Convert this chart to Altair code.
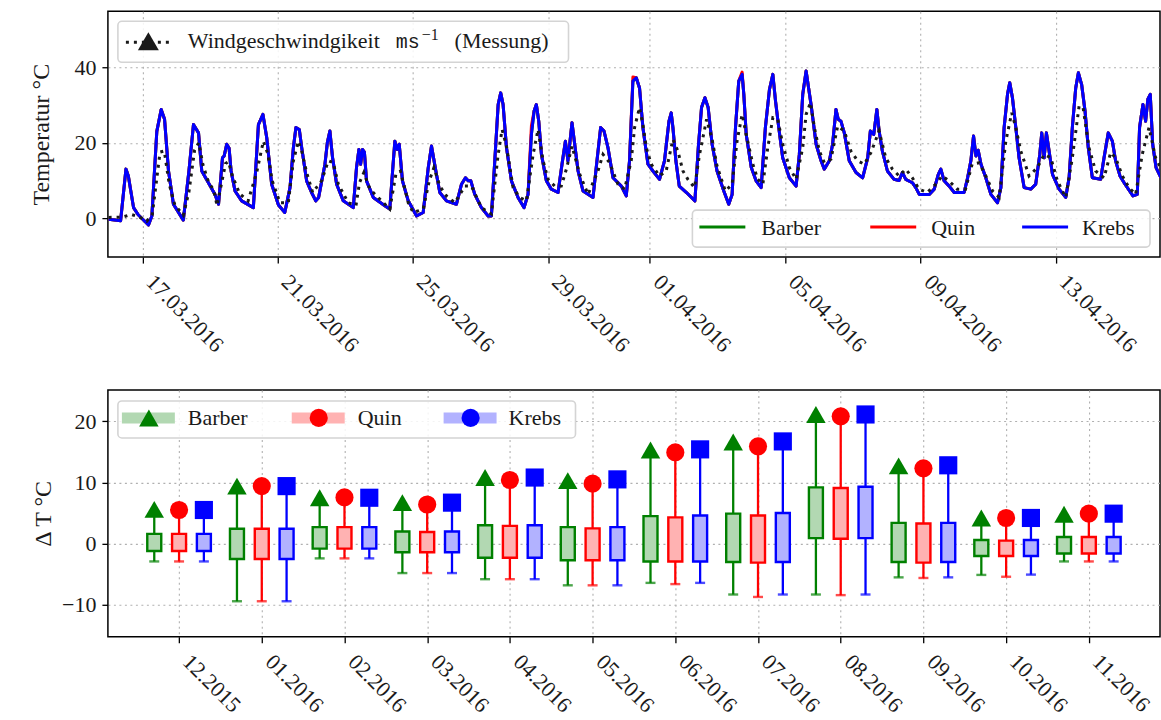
import json
import altair as alt
import pandas as pd

SERIF = "Liberation Serif"
MONO = "Liberation Mono"
INK = "#1a1a1a"

# ---------------- stations ----------------
stations = ["Barber", "Quin", "Krebs"]
line_colors = ["#008000", "#ff0000", "#0000ff"]
box_fills = ["#b2d8b2", "#ffb2b2", "#b2b2ff"]
marker_shapes = ["triangle-up", "circle", "square"]
marker_sizes = [380, 330, 330]
box_offsets = [-0.3, 0.0, 0.3]

# ---------------- hourly series, hours after 16.03.2016 00:00 (°C) ----------------
krebs = [
    (0, -0.3), (8.5, -0.7), (12.3, 13.0), (14, 11.2), (17.7, 2.8), (21, 0.9), (28.3, -1.8), (30.7, 0.6),
    (34.2, 23.0), (37.3, 28.8), (39.7, 26.2), (42.5, 12.5), (46, 3.7), (53, -0.5), (57, 12.5), (60.2, 24.8),
    (63.8, 22.6), (66.1, 12.5), (70.8, 9.4), (75.5, 6.3), (78, 3.7), (80.8, 16.0), (82, 16.5), (83.8, 19.6),
    (85.5, 18.5), (86.9, 12.5), (89.7, 7.2), (94.4, 4.6), (102.7, 2.8), (106.3, 24.8), (109.5, 27.5),
    (112.2, 21.3), (115.7, 9.0), (120.5, 3.5), (125, 1.5), (128.7, 8.1), (131.1, 18.7), (132.9, 24.0),
    (135.3, 23.5), (137, 18.7), (140.5, 9.9), (144, 6.8), (147, 4.6), (149, 5.5), (153.5, 14.3), (155.2, 20.0),
    (157, 23.1), (158.9, 16.0), (161.8, 9.0), (166.5, 4.6), (173.6, 2.8), (175.9, 13.4), (177.6, 18.2),
    (178.8, 14.3), (180.2, 18.2), (181.5, 17.5), (183, 9.9), (187.8, 5.5), (196, 3.3), (199.5, 2.4),
    (201.5, 12.5), (203.1, 20.4), (204.8, 18.2), (206.2, 19.6), (208.5, 9.9), (212.6, 4.6), (218.5, 0.6),
    (223.2, 1.5), (226.8, 13.4), (229.1, 19.1), (232.2, 12.5), (235, 6.8), (239.7, 4.6), (246.8, 3.7),
    (250.4, 9.0), (253.2, 10.7), (255.1, 9.9), (257, 9.9), (259.8, 6.3), (264.5, 2.8), (269.3, 0.6),
    (271.6, 0.6), (274, 15.2), (276.4, 30.1), (278.2, 33.2), (279.9, 30.1), (282.3, 18.7), (285.8, 9.9),
    (290.5, 5.5), (294.8, 2.8), (297.6, 6.3), (300, 22.2), (301.9, 28.4), (303.5, 30.1), (305.2, 25.7),
    (307.1, 16.9), (310.6, 9.9), (314.1, 7.7), (318.9, 6.8), (321.7, 14.3), (324.1, 20.4), (325.9, 15.2),
    (328.8, 25.3), (330.7, 19.6), (333.1, 12.5), (336.6, 7.2), (343.7, 5.5), (346.5, 15.2), (349.1, 24.0),
    (351.5, 23.1), (354.3, 18.7), (357.9, 10.7), (363.8, 8.5), (367.3, 5.9), (369.6, 15.2), (372, 36.3),
    (374.4, 37.2), (376.7, 34.5), (379.1, 24.0), (382.7, 14.3), (386.2, 12.5), (390.9, 10.3), (394.4, 15.2),
    (397.6, 25.7), (399.2, 27.9), (400.4, 24.0), (402.5, 15.2), (404.9, 8.5), (410, 6.8), (416, 4.6),
    (418.4, 18.7), (420.7, 29.3), (423.1, 31.9), (425.4, 29.3), (428.2, 19.6), (431.7, 12.5), (436.5, 7.2),
    (440, 3.7), (442.4, 6.3), (444.8, 24.0), (447.1, 36.3), (449.5, 38.1), (450.7, 32.8), (452.4, 22.2),
    (456, 13.4), (459.4, 9.9), (463, 8.1), (466, 24.0), (468.9, 34.1), (471.3, 38.1), (473.2, 31.0),
    (475.5, 24.0), (478.3, 16.0), (483, 10.7), (487.8, 8.5), (490.1, 16.9), (492.5, 32.8), (494.9, 39.0),
    (498.4, 30.1), (502, 19.6), (505.5, 15.2), (507.8, 13.0), (511.4, 15.2), (513.7, 19.6), (516.1, 28.8),
    (517.7, 26.2), (519.6, 25.7), (522, 22.6), (525.5, 15.2), (530.3, 12.1), (535, 10.7), (538.6, 16.0),
    (540.5, 23.1), (542.9, 22.2), (545.1, 28.8), (546.7, 23.1), (549, 17.8), (552.6, 12.5), (557.3, 10.3),
    (560.9, 10.0), (563.2, 12.1), (565.6, 10.3), (570.3, 9.4), (572.7, 8.1), (575.2, 6.3), (582.3, 6.3),
    (585.8, 7.7), (588.7, 11.6), (590.5, 13.0), (592.8, 9.9), (596.4, 8.5), (600, 6.8), (607, 6.8),
    (609.5, 10.7), (611.8, 15.2), (613.7, 21.8), (615.4, 16.5), (617, 18.0), (619, 14.3), (622.4, 10.7),
    (626, 6.3), (630.7, 4.1), (633.1, 8.1), (635.4, 24.0), (637.8, 32.8), (639.4, 35.9), (641.3, 31.9),
    (643.7, 24.0), (646, 16.0), (649.6, 8.1), (654.3, 7.7), (657.8, 9.0), (660.7, 16.9), (662.1, 22.6),
    (663.8, 16.0), (665.4, 22.6), (667.3, 17.8), (669.7, 11.6), (674.4, 7.7), (679.1, 5.5), (681.5, 10.7),
    (683.8, 24.0), (686.2, 34.5), (688.1, 38.5), (690.4, 35.4), (692.8, 28.4), (695.1, 18.7), (698, 10.7),
    (703.9, 10.3), (706.3, 16.0), (709.3, 22.6), (712.2, 20.4), (714.5, 15.2), (717.6, 11.2), (721.2, 9.0),
    (726.8, 5.9), (729.9, 6.3), (731.5, 24.0), (733.9, 30.1), (735.8, 25.7), (737.4, 31.5), (739.1, 32.8),
    (740.8, 19.6), (743.2, 13.4), (746.7, 10.7),
]
# Barber follows Krebs throughout; Quin departs from it at these hours only
quin_departures = {300: 24.5, 372: 37.4, 449.5: 38.7}

messung = [
    (0, 0.2), (10, 0.3), (16, 1.0), (22, 0.3), (27, -0.8), (31, 1.0), (34, 10.0), (36.5, 17.5), (39.5, 17.8),
    (43, 9.0), (47, 3.5), (53, 0.8), (57, 7.0), (61, 18.0), (64, 20.0), (67, 14.0), (71, 9.5), (74.5, 7.5),
    (77, 3.3), (80, 9.0), (83, 14.5), (85, 15.0), (88, 11.0), (93, 6.5), (99, 4.6), (105, 12.0), (109.8, 20.4),
    (113, 17.0), (116, 10.0), (121.6, 4.1), (127.5, 4.1), (131.1, 15.2), (134.6, 20.4), (137, 17.8),
    (140.5, 12.1), (144.8, 6.8), (151.1, 9.9), (155.9, 15.2), (159.4, 14.7), (163, 9.0), (170, 4.1),
    (175.5, 3.3), (178, 9.4), (181.1, 12.1), (185.4, 7.7), (194.9, 4.1), (199.5, 2.4), (203.8, 11.6),
    (207.1, 12.5), (212.6, 4.1), (216.1, 1.5), (223.2, 2.4), (227.5, 9.9), (230.8, 13.4), (235, 8.5),
    (239.7, 5.9), (245.7, 4.1), (252.8, 8.5), (257.5, 8.5), (264.5, 2.8), (271.6, 1.1), (276.4, 16.9),
    (279.2, 23.5), (282.3, 19.1), (287, 8.1), (291.7, 5.5), (296.5, 4.6), (301.2, 16.9), (304.7, 23.5),
    (308.3, 15.2), (311.8, 10.3), (316.5, 8.5), (321.2, 8.5), (324.8, 13.0), (328.8, 19.1), (334.3, 11.6),
    (340.2, 6.3), (347.2, 12.5), (350.8, 16.9), (355.5, 14.7), (361.4, 9.0), (366.1, 7.7), (370.8, 15.2),
    (373.2, 24.0), (376.7, 29.3), (379.1, 24.8), (381.5, 18.7), (385, 14.3), (390.9, 11.2), (395.6, 12.5),
    (400.4, 20.9), (403.9, 17.8), (407.5, 12.5), (411, 10.3), (415.7, 8.1), (419.3, 16.9), (424.3, 26.2),
    (428.2, 20.9), (431.7, 13.8), (437.6, 7.2), (442.4, 9.0), (445.9, 20.4), (449.5, 27.5), (452.4, 22.2),
    (457.1, 14.3), (460.6, 10.3), (464.2, 9.0), (467.7, 18.7), (471.3, 26.6), (474.8, 26.2), (478.3, 19.6),
    (483, 13.4), (487.8, 10.3), (492.5, 18.7), (494.9, 27.5), (498, 30.6), (500.8, 24.0), (504.3, 17.8),
    (507.8, 14.7), (512.5, 15.6), (517.3, 24.4), (522, 23.1), (526.7, 17.8), (531.4, 15.2), (536.2, 14.3),
    (540.9, 17.4), (546.7, 23.1), (551.4, 16.0), (556.1, 13.0), (560.9, 11.2), (565.6, 13.0), (570.3, 10.7),
    (575, 7.7), (580.9, 6.8), (586.8, 9.0), (591.5, 11.2), (596.2, 9.9), (602.1, 7.7), (608, 7.7),
    (612.7, 14.3), (617.7, 14.7), (622.4, 11.2), (627.2, 7.2), (631.9, 5.5), (636.6, 20.4), (640.8, 27.9),
    (643.7, 24.0), (647.2, 17.8), (653.1, 11.2), (659, 13.4), (663.8, 16.9), (668.5, 16.0), (673.2, 9.9),
    (679.1, 5.5), (683.8, 16.0), (688.6, 29.7), (691.4, 29.3), (695.6, 18.7), (700.3, 12.5), (706.3, 10.7),
    (711, 17.4), (714.5, 16.0), (719.3, 11.2), (724, 8.1), (728.7, 6.3), (733.4, 16.9), (738.2, 24.0),
    (742.9, 16.0), (746.4, 13.4),
]

date_ticks = ["17.03.2016", "21.03.2016", "25.03.2016", "29.03.2016",
              "01.04.2016", "05.04.2016", "09.04.2016", "13.04.2016"]

# ---------------- monthly ΔT statistics ----------------
months = ["12.2015", "01.2016", "02.2016", "03.2016", "04.2016", "05.2016",
          "06.2016", "07.2016", "08.2016", "09.2016", "10.2016", "11.2016"]
dt_min = {
    "Barber": [-2.9, -9.4, -2.4, -4.8, -5.8, -6.8, -6.4, -8.3, -8.3, -5.5, -5.1, -2.9],
    "Quin":   [-2.9, -9.4, -2.4, -4.8, -5.8, -6.8, -6.6, -8.7, -8.4, -5.6, -5.4, -2.9],
    "Krebs":  [-2.9, -9.4, -2.4, -4.8, -5.8, -6.8, -6.4, -8.3, -8.3, -5.5, -5.05, -2.9],
}
dt_q1 = {
    "Barber": [-1.2, -2.5, -0.8, -1.4, -2.3, -2.7, -2.9, -3.0, 0.9, -3.0, -2.0, -1.6],
    "Quin":   [-1.2, -2.5, -0.8, -1.4, -2.3, -2.7, -2.9, -3.1, 0.8, -3.1, -2.0, -1.6],
    "Krebs":  [-1.2, -2.5, -0.8, -1.4, -2.3, -2.7, -2.9, -3.0, 0.9, -3.0, -2.0, -1.6],
}
dt_q3 = {
    "Barber": [1.6, 2.45, 2.7, 2.0, 3.0, 2.7, 4.5, 4.9, 9.2, 3.4, 0.6, 1.1],
    "Quin":   [1.6, 2.45, 2.7, 1.9, 2.9, 2.5, 4.3, 4.6, 9.1, 3.3, 0.5, 1.1],
    "Krebs":  [1.6, 2.45, 2.7, 2.0, 3.0, 2.7, 4.6, 5.0, 9.3, 3.4, 0.6, 1.1],
}
dt_max = {
    "Barber": [5.6, 9.4, 7.5, 6.7, 10.8, 10.3, 15.3, 16.6, 21.1, 12.7, 4.2, 4.8],
    "Quin":   [5.5, 9.4, 7.55, 6.4, 10.4, 9.8, 14.9, 15.9, 20.8, 12.3, 4.2, 4.9],
    "Krebs":  [5.5, 9.4, 7.5, 6.7, 10.8, 10.5, 15.4, 16.7, 21.1, 12.8, 4.2, 4.9],
}

# ---------------- helpers ----------------
START = pd.Timestamp("2016-03-16 00:00")


def stamps(hours):
    return [(START + pd.Timedelta(minutes=round(h * 60))).strftime("%Y-%m-%dT%H:%M:%SZ") for h in hours]


def utc_day(text, hours=0, minutes=0):
    d, m, y = (int(p) for p in text.split("."))
    return alt.DateTime(year=y, month=m, date=d, hours=hours, minutes=minutes, utc=True)


blank = pd.DataFrame({"k": [0]})


def frame(x0, x1, y0, y1):
    return alt.Chart(blank).mark_rect(
        fill="white", fillOpacity=0.85, stroke="#d4d4d4", strokeWidth=1.6, cornerRadius=4
    ).encode(x=alt.value(x0), x2=alt.value(x1), y=alt.value(y0), y2=alt.value(y1))


def words(x, y, s, size=22, font=SERIF):
    return alt.Chart(blank).mark_text(
        text=s, align="left", baseline="alphabetic", font=font, fontSize=size, color=INK
    ).encode(x=alt.value(x), y=alt.value(y))


def segment(x0, x1, y, color, width, dash=None):
    kw = dict(color=color, strokeWidth=width)
    if dash is not None:
        kw["strokeDash"] = dash
    return alt.Chart(blank).mark_rule(**kw).encode(x=alt.value(x0), x2=alt.value(x1), y=alt.value(y))


def swatch(x0, x1, y0, y1, color):
    return alt.Chart(blank).mark_rect(fill=color).encode(
        x=alt.value(x0), x2=alt.value(x1), y=alt.value(y0), y2=alt.value(y1))


def symbol(x, y, shape, color, size):
    return alt.Chart(blank).mark_point(shape=shape, filled=True, color=color, size=size, opacity=1).encode(
        x=alt.value(x), y=alt.value(y))


# ---------------- upper panel: temperature series ----------------
W = 1053
H_TOP, H_BOT = 246, 247

t_x = alt.X(
    "time:T", title=None,
    scale=alt.Scale(type="utc", domain=[utc_day("15.03.2016", 23, 30), utc_day("16.04.2016", 2, 0)], nice=False),
    axis=alt.Axis(values=[utc_day(d) for d in date_ticks], labelExpr="utcFormat(datum.value, '%d.%m.%Y')",
                  labelAngle=45, labelAlign="left", labelBaseline="top", labelPadding=8, labelOffset=14),
)
t_y = alt.Y(
    "temp:Q", title="Temperatur °C",
    scale=alt.Scale(domain=[-10.3, 54.8], nice=False, zero=False),
    axis=alt.Axis(values=[0, 20, 40], titleX=-66, titleY=H_TOP / 2, titleAngle=270,
                  titleBaseline="middle", titleAlign="center"),
)

hours = [h for h, _ in krebs]
series = {
    "Barber": [v for _, v in krebs],
    "Quin": [quin_departures.get(h, v) for h, v in krebs],
    "Krebs": [v for _, v in krebs],
}

top_layers = []
for name, col in zip(stations, line_colors):
    df = pd.DataFrame({"time": stamps(hours), "temp": series[name]})
    top_layers.append(
        alt.Chart(df).mark_line(color=col, strokeWidth=3, strokeJoin="round", clip=True).encode(x=t_x, y=t_y)
    )

mess_df = pd.DataFrame({"time": stamps([h for h, _ in messung]), "temp": [v for _, v in messung]})
top_layers.append(
    alt.Chart(mess_df).mark_line(color=INK, strokeWidth=3, strokeDash=[3, 5], clip=True).encode(x=t_x, y=t_y)
)

# legend: measurement (upper left)
top_layers += [
    frame(10, 461, 10, 51),
    segment(18, 62, 31, INK, 3, [3, 5]),
    symbol(40.5, 30, "triangle-up", INK, 440),
    words(80, 37, "Windgeschwindgikeit"),
    words(288, 37, "ms", size=20, font=MONO),
    words(314, 29, "−1", size=16),
    words(347, 37, "(Messung)"),
]
# legend: stations (lower right)
top_layers.append(frame(585, 1043, 199, 236))
for col, name, lx, tx in zip(line_colors, stations, [592, 763, 915], [654, 824, 975]):
    top_layers.append(segment(lx, lx + 46, 216, col, 3))
    top_layers.append(words(tx, 224, name))

top = alt.layer(*top_layers).properties(width=W, height=H_TOP)

# ---------------- lower panel: monthly ΔT boxes ----------------
b_x = alt.X(
    "pos:Q", title=None,
    scale=alt.Scale(domain=[-0.8, 11.8], nice=False, zero=False),
    axis=alt.Axis(values=list(range(len(months))), labelExpr=f"{json.dumps(months)}[datum.value]",
                  labelAngle=45, labelAlign="left", labelBaseline="top", labelPadding=8, labelOffset=14),
)


def b_y(field):
    return alt.Y(
        f"{field}:Q", title="Δ T °C",
        scale=alt.Scale(domain=[-15.2, 25.1], nice=False, zero=False),
        axis=alt.Axis(values=[-10, 0, 10, 20], titleX=-64, titleY=H_BOT / 2, titleAngle=270,
                      titleBaseline="middle", titleAlign="center"),
    )


bot_layers = []
for name, col, fill, shape, msize, off in zip(stations, line_colors, box_fills, marker_shapes,
                                              marker_sizes, box_offsets):
    df = pd.DataFrame({
        "pos": [i + off for i in range(len(months))],
        "lo": dt_min[name], "q1": dt_q1[name], "q3": dt_q3[name], "hi": dt_max[name],
    })
    c = alt.Chart(df)
    bot_layers += [
        c.mark_rule(color=col, strokeWidth=2.3).encode(x=b_x, y=b_y("lo"), y2="q1:Q"),
        c.mark_rule(color=col, strokeWidth=2.3).encode(x=b_x, y=b_y("q3"), y2="hi:Q"),
        c.mark_bar(size=14, fill=fill, stroke=col, strokeWidth=2.4).encode(x=b_x, y=b_y("q1"), y2="q3:Q"),
        c.mark_tick(orient="horizontal", size=10, thickness=2.4, color=col).encode(x=b_x, y=b_y("lo")),
        c.mark_point(shape=shape, filled=True, size=msize, color=col, opacity=1).encode(x=b_x, y=b_y("hi")),
    ]

bot_layers.append(frame(10, 468, 11, 48))
for col, fill, shape, msize, name, bx, tx in zip(line_colors, box_fills, ["triangle-up", "circle", "circle"],
                                                 marker_sizes, stations, [14, 184, 336], [80, 250, 401]):
    bot_layers.append(swatch(bx, bx + 53, 22.5, 33.5, fill))
    bot_layers.append(symbol(bx + 27, 28, shape, col, msize))
    bot_layers.append(words(tx, 35, name))

bottom = alt.layer(*bot_layers).properties(width=W, height=H_BOT)

chart = (
    alt.vconcat(top, bottom, spacing=32)
    .properties(padding={"left": 29, "top": 10, "right": 0, "bottom": 0}, background="white")
    .configure_view(stroke="black", strokeWidth=1.5)
    .configure_axis(
        labelFont=SERIF, labelFontSize=22, labelColor=INK, labelPadding=6,
        titleFont=SERIF, titleFontSize=24, titleFontWeight="normal", titleColor=INK,
        tickColor="black", tickSize=6, tickWidth=1.3, domain=False,
        grid=True, gridColor="#b0b0b0", gridDash=[2, 3.5], gridWidth=1.1,
    )
)

chart.save("out.html", embed_options={"renderer": "svg", "actions": False})
